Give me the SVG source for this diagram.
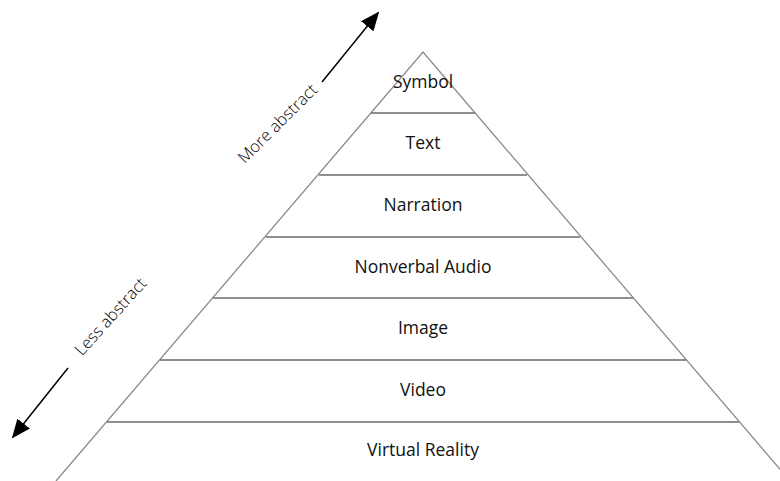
<svg xmlns="http://www.w3.org/2000/svg" width="780" height="481" viewBox="0 0 780 481">
<style>
.edge{stroke:#8a8a8a;stroke-width:1.3;fill:none}
.band{stroke:#6a6a6a;stroke-width:1.5}
.lbl{font-family:"Open Sans","Noto Sans",sans-serif;font-size:17.5px;font-weight:500;fill:#111;text-anchor:middle}
.dir{font-family:"Open Sans","Noto Sans",sans-serif;font-size:16.5px;font-weight:300;fill:#000;text-anchor:middle}
.arr{stroke:#000;stroke-width:1.5;fill:none;marker-end:url(#ah)}
</style>
<defs>
<marker id="ah" viewBox="0 0 10 10" refX="9" refY="5" markerWidth="19" markerHeight="16" markerUnits="userSpaceOnUse" orient="auto" preserveAspectRatio="none">
<path d="M0,0 L10,5 L0,10 z" fill="#000"/>
</marker>
</defs>
<rect width="780" height="481" fill="#fff"/>
<g id="pyramid">
<path class="edge" d="M56,481 L423,52 L790,481"/>
</g>
<g id="bands">
<line class="band" x1="371" y1="113" x2="475" y2="113"/>
<line class="band" x1="319" y1="175" x2="527" y2="175"/>
<line class="band" x1="266" y1="237" x2="580" y2="237"/>
<line class="band" x1="213" y1="298" x2="633" y2="298"/>
<line class="band" x1="160" y1="360" x2="686" y2="360"/>
<line class="band" x1="107" y1="422" x2="739" y2="422"/>
</g>
<g id="symbol"><text class="lbl" x="423" y="88">Symbol</text></g>
<g id="text"><text class="lbl" x="423" y="149">Text</text></g>
<g id="narration"><text class="lbl" x="423" y="211">Narration</text></g>
<g id="nonverbal-audio"><text class="lbl" x="423" y="273">Nonverbal Audio</text></g>
<g id="image"><text class="lbl" x="423" y="334">Image</text></g>
<g id="video"><text class="lbl" x="423" y="396">Video</text></g>
<g id="virtual-reality"><text class="lbl" x="423" y="456">Virtual Reality</text></g>
<g id="connectors">
<line class="arr" x1="322" y1="82" x2="378" y2="13"/>
<line class="arr" x1="68" y1="368" x2="13" y2="437"/>
</g>
<g id="more-abstract"><text class="dir" transform="translate(278,124) rotate(-45)" x="0" y="5">More abstract</text></g>
<g id="less-abstract"><text class="dir" transform="translate(111,317) rotate(-48)" x="0" y="5">Less abstract</text></g>
</svg>
